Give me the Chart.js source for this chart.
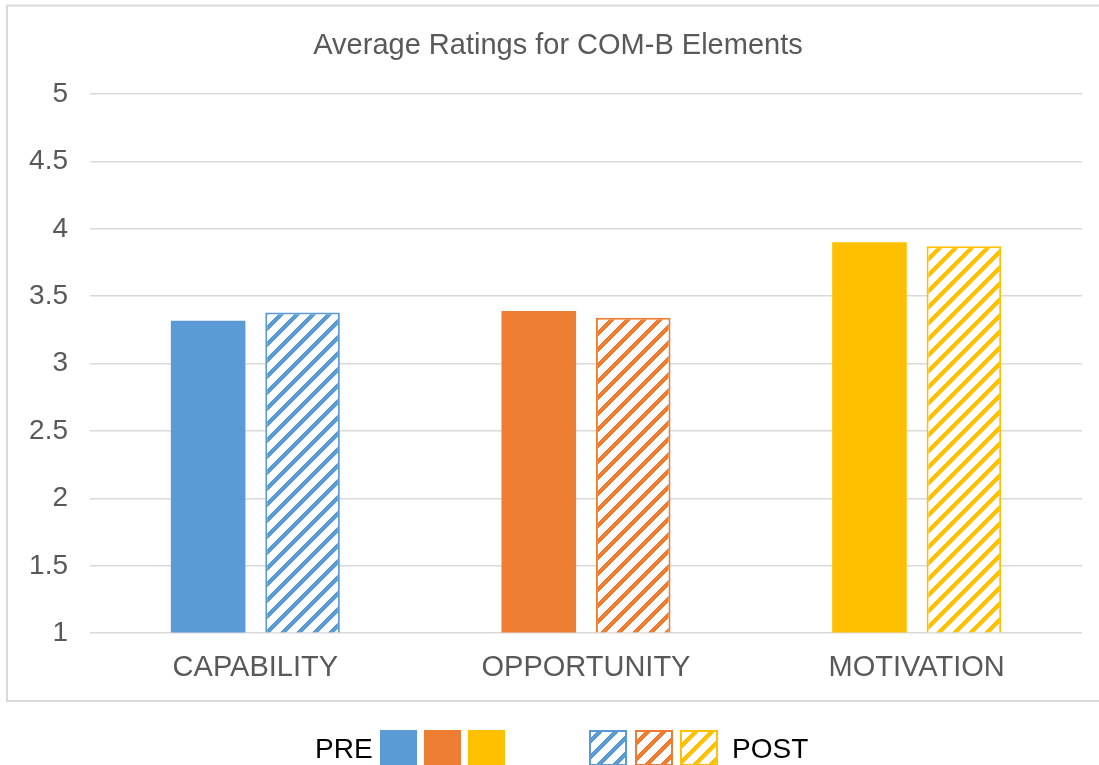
<!DOCTYPE html>
<html>
<head>
<meta charset="utf-8">
<script src="https://cdn.jsdelivr.net/npm/chart.js@4"></script>
<style>
  html, body { margin: 0; padding: 0; background: #ffffff; }
  #wrap { width: 1099px; height: 765px; position: relative; }
</style>
</head>
<body>
<div id="wrap"><canvas id="c"></canvas></div>
<script>
const categories = ['CAPABILITY', 'OPPORTUNITY', 'MOTIVATION'];
const preValues = [3.317, 3.39, 3.90];
const postValues = [3.38, 3.34, 3.87];
const yTickLabels = ['1', '1.5', '2', '2.5', '3', '3.5', '4', '4.5', '5'];
const titleText = 'Average Ratings for COM-B Elements';
const legendPre = 'PRE';
const legendPost = 'POST';

const colors = ['#5B9BD5', '#ED7D31', '#FFC000'];
const FONT = '"Liberation Sans", Arial, sans-serif';

function makeHatch(color) {
  const T = 16, W = 6;
  const cv = document.createElement('canvas');
  cv.width = T; cv.height = T;
  const g = cv.getContext('2d');
  g.fillStyle = '#ffffff';
  g.fillRect(0, 0, T, T);
  g.fillStyle = color;
  for (let y = 0; y < T; y++) {
    for (let x = 0; x < T; x++) {
      if (((x + y) % T) < W) g.fillRect(x, y, 1, 1);
    }
  }
  return g.createPattern(cv, 'repeat');
}

const ctx = document.getElementById('c').getContext('2d');
const hatches = colors.map(makeHatch);

const framePlugin = {
  id: 'frame',
  beforeDraw(chart) {
    const g = chart.ctx;
    g.save();
    g.strokeStyle = '#d9d9d9';
    g.lineWidth = 2;
    g.strokeRect(7, 5.5, 1110, 695.5);
    g.restore();
  },
  afterDraw(chart) {
    const g = chart.ctx;
    g.save();
    // title
    g.font = '29px ' + FONT;
    g.fillStyle = '#595959';
    g.textAlign = 'center';
    g.textBaseline = 'alphabetic';
    g.fillText(titleText, 558, 54);
    // legend
    g.font = '28px ' + FONT;
    g.fillStyle = '#000000';
    g.textAlign = 'left';
    g.fillText(legendPre, 315, 758);
    g.fillText(legendPost, 732, 758);
    const preX = [380, 424, 468];
    const postX = [589, 635, 680];
    const by = 730, bh = 36;
    colors.forEach((c, i) => {
      g.fillStyle = c;
      g.fillRect(preX[i], by, 37, bh);
      g.fillStyle = hatches[i];
      g.fillRect(postX[i], by, 38, bh);
      g.strokeStyle = c;
      g.lineWidth = 2;
      g.strokeRect(postX[i] + 1, by + 1, 36, bh - 2);
    });
    g.restore();
  }
};

new Chart(ctx, {
  type: 'bar',
  data: {
    labels: categories,
    datasets: [
      {
        label: legendPre,
        data: preValues,
        backgroundColor: colors,
        borderWidth: 0,
        base: 1
      },
      {
        label: legendPost,
        data: postValues,
        backgroundColor: hatches,
        borderColor: colors,
        borderWidth: 2,
        base: 1
      }
    ]
  },
  options: {
    responsive: true,
    maintainAspectRatio: false,
    animation: false,
    layout: { padding: { left: 0, right: 17, top: 94, bottom: 63 } },
    categoryPercentage: 0.571,
    barPercentage: 0.79,
    plugins: {
      legend: { display: false },
      tooltip: { enabled: false },
      title: { display: false }
    },
    scales: {
      x: {
        grid: { display: false, drawTicks: false },
        border: { display: false },
        ticks: {
          color: '#595959',
          font: { family: FONT, size: 29 },
          padding: 17,
          maxRotation: 0
        }
      },
      y: {
        min: 1,
        max: 5,
        grid: { color: '#d9d9d9', lineWidth: 1.5, drawTicks: false },
        border: { display: false },
        afterFit(scale) { scale.width = 90; },
        afterBuildTicks(scale) {
          scale.ticks = yTickLabels.map(t => ({ value: parseFloat(t) }));
        },
        ticks: {
          color: '#595959',
          font: { family: FONT, size: 28 },
          padding: 22,
          callback(value) {
            const s = yTickLabels.find(t => parseFloat(t) === value);
            return s === undefined ? '' : s;
          }
        }
      }
    }
  },
  plugins: [framePlugin]
});
</script>
</body>
</html>
